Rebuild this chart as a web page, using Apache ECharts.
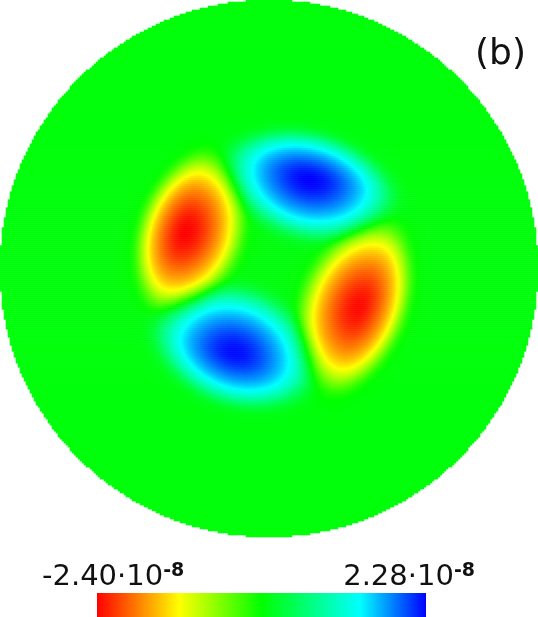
<!DOCTYPE html>
<html>
<head>
<meta charset="utf-8">
<script src="https://cdn.jsdelivr.net/npm/echarts@6/dist/echarts.min.js"></script>
<style>html,body{margin:0;padding:0;background:#fff}#main{width:538px;height:617px}</style>
</head>
<body>
<div id="main"></div>
<script>
// four lobes of the field, in disk units (centre 0,0, radius 1, y up)
var lobeX        = [-0.309,  0.153,  0.335, -0.127];
var lobeY        = [ 0.136,  0.330, -0.143, -0.311];
var lobeAmp      = [-2.40,   2.28,  -2.36,   2.24];   // x 1e-8
var lobeMajor    = [ 0.295,  0.308,  0.318,  0.300];
var lobeMinorOut = [ 0.167,  0.170,  0.170,  0.188];  // side facing the rim
var lobeMinorIn  = [ 0.207,  0.210,  0.210,  0.232];  // side facing the centre
var lobeAngle    = [ 72,    -15,     70,    -20];      // deg, major axis
var valueMin = -2.40, valueMax = 2.28;
var minLabel = '-2.40·10', maxLabel = '2.28·10', expLabel = '-8';
var panelLabel = '(b)';
var N = 269; // cells per side

// lobe profile: broad flat part with a sharp rim plus a rounded core
function profile(r) {
    return 0.55 * Math.exp(-Math.pow(r / 0.95, 6)) + 0.45 * Math.exp(-Math.pow(r / 0.62, 2));
}

function field(x, y) {
    var v = 0;
    for (var k = 0; k < lobeX.length; k++) {
        var a = lobeAngle[k] * Math.PI / 180;
        var cs = Math.cos(a), sn = Math.sin(a);
        var dx = x - lobeX[k], dy = y - lobeY[k];
        var u = (dx * cs + dy * sn) / lobeMajor[k];
        var wr = -dx * sn + dy * cs;
        var inward = wr * (sn * lobeX[k] - cs * lobeY[k]) > 0;
        var b = (inward ? lobeMinorIn[k] : lobeMinorOut[k]) * Math.max(0.3, 1 - 0.1 * u * u);
        var wn = wr / b;
        v += lobeAmp[k] * profile(Math.sqrt(u * u + wn * wn));
    }
    return Math.max(valueMin, Math.min(valueMax, v));
}

var cats = [], data = [];
for (var i = 0; i < N; i++) cats.push(i);
for (var i = 0; i < N; i++) {
    for (var j = 0; j < N; j++) {
        var x = (i + 0.5) / N * 2 - 1, y = (j + 0.5) / N * 2 - 1;
        if (x * x + y * y > 1) continue;
        data.push([i, j, field(x, y)]);
    }
}

// colour ramp red-yellow-green-cyan-blue
var stops = [[0, [255, 0, 0]], [0.25, [255, 255, 0]], [0.5, [0, 255, 0]], [0.8, [0, 255, 255]], [1, [0, 0, 255]]];
var ramp = [], barStops = [];
for (var t = 0; t <= 20; t++) {
    var f = t / 20, k = 0;
    while (k < stops.length - 2 && f > stops[k + 1][0]) k++;
    var s = (f - stops[k][0]) / (stops[k + 1][0] - stops[k][0]);
    var c = stops[k][1].map(function (c0, n) { return Math.round(c0 + (stops[k + 1][1][n] - c0) * s); });
    ramp.push('rgb(' + c.join(',') + ')');
    barStops.push({ offset: f, color: 'rgb(' + c.join(',') + ')' });
}

var myChart = echarts.init(document.getElementById('main'));
var font = 'DejaVu Sans';
var labelRich = {
    m: { fontSize: 29, fontFamily: font, fill: '#111', verticalAlign: 'bottom', lineHeight: 30 },
    s: { fontSize: 19, fontFamily: font, fontWeight: 'bold', fill: '#111', verticalAlign: 'top', lineHeight: 12 }
};
option = {
    animation: false,
    textStyle: { fontFamily: font },
    grid: { left: 0, top: 0, width: 538, height: 537 },
    xAxis: { type: 'category', data: cats, show: false },
    yAxis: { type: 'category', data: cats, show: false },
    visualMap: {
        type: 'continuous',
        show: false,
        min: valueMin,
        max: valueMax,
        inRange: { color: ramp }
    },
    series: [{
        type: 'heatmap',
        data: data,
        progressive: 0,
        emphasis: { disabled: true }
    }],
    graphic: [
        { type: 'rect', left: 97, top: 593, shape: { width: 329, height: 24 },
          style: { fill: new echarts.graphic.LinearGradient(0, 0, 1, 0, barStops) } },
        { type: 'text', left: 42, top: 562, style: { text: '{m|' + minLabel + '}{s|' + expLabel + '}', rich: labelRich } },
        { type: 'text', right: 63, top: 562, style: { text: '{m|' + maxLabel + '}{s|' + expLabel + '}', rich: labelRich } },
        { type: 'text', right: 12, top: 37, style: { text: panelLabel, font: '36px ' + font, fill: '#111' } }
    ]
};
myChart.setOption(option);
</script>
</body>
</html>
